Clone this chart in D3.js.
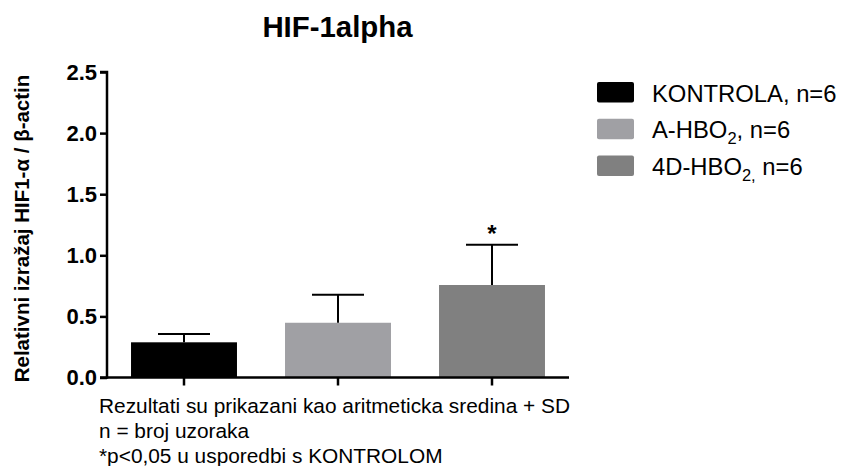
<!DOCTYPE html>
<html><head><meta charset="utf-8">
<script src="https://cdn.jsdelivr.net/npm/d3@7/dist/d3.min.js"></script>
<style>body{margin:0;background:#fff}svg{display:block}text{font-family:"Liberation Sans",Arial,sans-serif}</style>
</head><body>
<svg id="c" width="842" height="466"></svg>
<script>
const categories = ["KONTROLA", "A-HBO2", "4D-HBO2"];
const means = [0.288, 0.448, 0.757];
const sds = [0.068, 0.230, 0.330];
const colors = ["#000000", "#a0a0a4", "#808080"];
const significant = [false, false, true];
const yTicks = [0.0, 0.5, 1.0, 1.5, 2.0, 2.5];
const legendLabels = [["KONTROLA, n=6", "", ""], ["A-HBO", "2", ", n=6"], ["4D-HBO", "2,", " n=6"]];
const notes = ["Rezultati su prikazani kao aritmeticka sredina + SD", "n = broj uzoraka", "*p<0,05 u usporedbi s KONTROLOM"];

const svg = d3.select("#c");
const x = d3.scaleBand().domain(categories).range([107, 569]).paddingInner(0.312).paddingOuter(0.156);
const y = d3.scaleLinear().domain([0, 2.5]).range([377.5, 72]);

// title
svg.append("text").attr("x", 337.5).attr("y", 37).attr("text-anchor", "middle")
  .attr("font-size", 29.4).attr("font-weight", "bold").text("HIF-1alpha");

// bars
svg.selectAll("rect.bar").data(categories).enter().append("rect")
  .attr("x", d => x(d)).attr("width", x.bandwidth())
  .attr("y", (d, i) => y(means[i])).attr("height", (d, i) => y(0) - y(means[i]))
  .attr("fill", (d, i) => colors[i]);

// error bars
const eb = svg.append("g").attr("stroke", "#000").attr("stroke-width", 2);
categories.forEach((c, i) => {
  const cx = x(c) + x.bandwidth() / 2;
  eb.append("line").attr("x1", cx).attr("x2", cx).attr("y1", y(means[i])).attr("y2", y(means[i] + sds[i]));
  eb.append("line").attr("x1", cx - 26).attr("x2", cx + 26).attr("y1", y(means[i] + sds[i])).attr("y2", y(means[i] + sds[i]));
  if (significant[i]) {
    svg.append("text").attr("x", cx).attr("y", y(means[i] + sds[i]) - 3).attr("text-anchor", "middle")
      .attr("font-size", 24).attr("font-weight", "bold").text("*");
  }
});

// axes
const yAxis = d3.axisLeft(y).tickValues(yTicks).tickFormat(d3.format(".1f")).tickSize(7).tickPadding(3);
const gy = svg.append("g").attr("transform", "translate(107,0)").call(yAxis);
gy.select(".domain").attr("stroke-width", 2.5).attr("d", `M-7,${y(2.5)}H0V${y(0)}H-7`);
gy.selectAll(".tick line").attr("stroke-width", 2.5);
gy.selectAll(".tick text").attr("font-size", 22).attr("font-weight", "bold").attr("fill", "#000")
  .style("font-family", '"Liberation Sans",Arial,sans-serif');

const xAxis = d3.axisBottom(x).tickSize(8).tickFormat("");
const gx = svg.append("g").attr("transform", `translate(0,${y(0)})`).call(xAxis);
gx.select(".domain").attr("stroke-width", 2.5).attr("d", "M107,0H569");
gx.selectAll(".tick line").attr("stroke-width", 2.5);

// y title
svg.append("text").attr("transform", "translate(22,228.5) rotate(-90)").attr("text-anchor", "middle")
  .attr("dy", "0.35em").attr("font-size", 20.5).attr("font-weight", "bold").text("Relativni izražaj HIF1-α / β-actin");

// legend
const lg = svg.append("g");
legendLabels.forEach((lab, i) => {
  const yy = 82 + i * 36.7;
  lg.append("rect").attr("x", 597).attr("y", yy).attr("width", 37).attr("height", 20.5).attr("rx", 2)
    .attr("fill", colors[i]);
  const t = lg.append("text").attr("x", 652).attr("y", yy + 19.5).attr("font-size", 23.8);
  t.append("tspan").text(lab[0]);
  if (lab[1]) {
    t.append("tspan").attr("dy", 6).attr("font-size", 16.5).text(lab[1]);
    t.append("tspan").attr("dy", -6).text(lab[2]);
  }
});

// notes
notes.forEach((n, i) => {
  svg.append("text").attr("x", 99).attr("y", 413 + i * 25).attr("font-size", 20.85).text(n);
});
</script>
</body></html>
